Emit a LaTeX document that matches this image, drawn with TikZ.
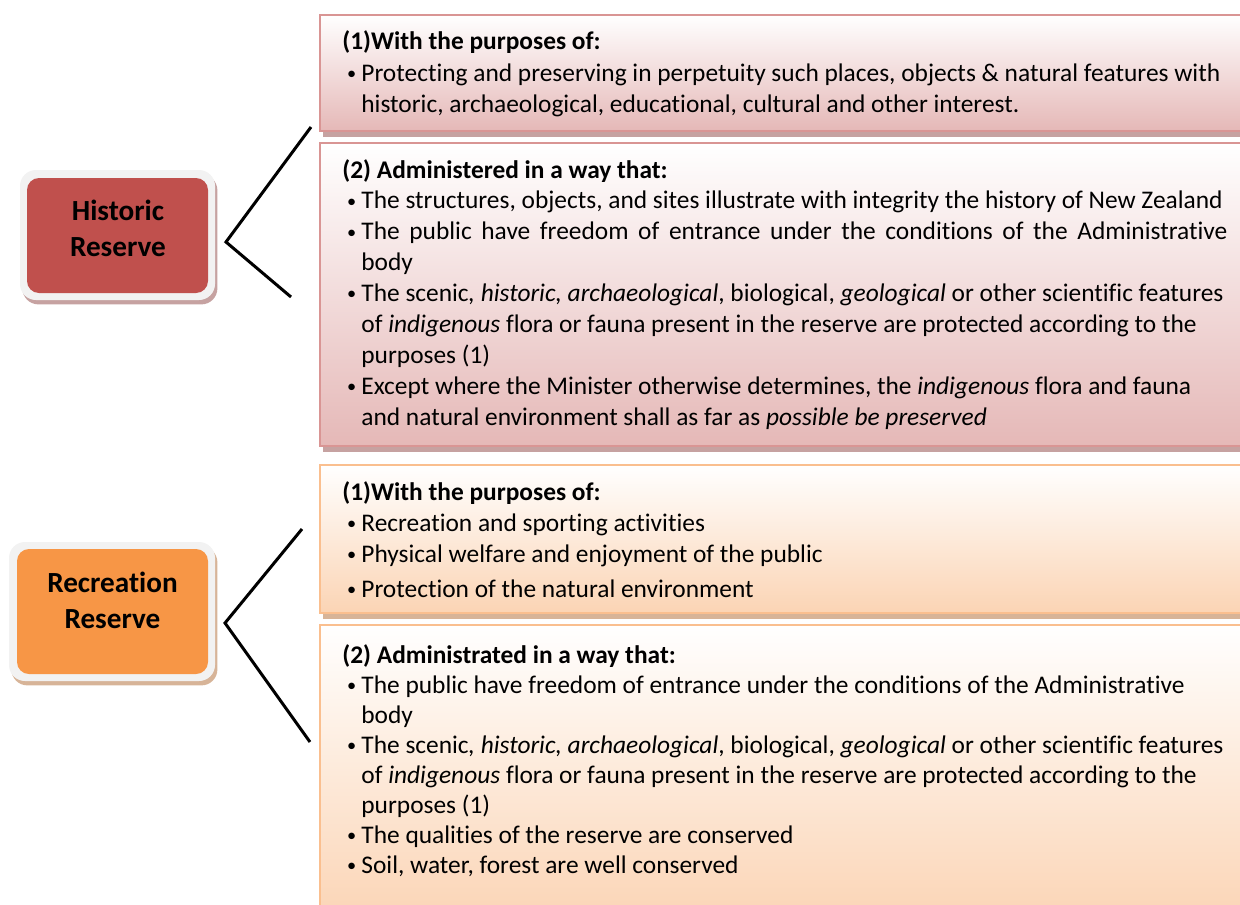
\documentclass[tikz,border=0pt]{standalone}
\usepackage{fontspec}
\setmainfont{Carlito}[Ligatures=NoCommon]
\usetikzlibrary{shadows}

\definecolor{hisred}{HTML}{C0504D}
\definecolor{hisline}{HTML}{D99594}
\definecolor{hisfill}{HTML}{E5B8B7}
\definecolor{hisshadow}{HTML}{C6A2A1}
\definecolor{recorange}{HTML}{F79646}
\definecolor{recline}{HTML}{FABF8F}
\definecolor{recfill}{HTML}{FBD4B4}
\definecolor{recshadow}{HTML}{D7B498}
\definecolor{framegray}{HTML}{F2F2F2}

% bullet item with a hanging indent
\newcommand\bulletmark{\makebox[9.5pt][l]{\hspace{2.4pt}\raisebox{0.9pt}{\scalebox{0.72}{\textbullet}}}}
\newcommand\entry[1]{\par\hangindent=9.5pt\hangafter=1\noindent\bulletmark#1}
\newcommand\heading[1]{\noindent\textbf{#1}}
% a block of lines whose baseline is that of its first line
\newcommand\textblock[2]{\vtop{\hsize=480pt\parindent=0pt\parskip=0pt
  \fontsize{12.7}{15.4}\selectfont\baselineskip=#1\lineskiplimit=-20pt
  \raggedright #2\par}}
\newcommand\spreadline[2]{\makebox[#1][s]{#2}}

\tikzset{
  panel/.style={draw, line width=1.25pt, anchor=north west, inner sep=0pt,
    outer sep=0pt, minimum width=470pt},
  pinkpanel/.style={panel, draw=hisline, top color=white, bottom color=hisfill,
    general shadow={fill=hisshadow, shadow xshift=1.5pt, shadow yshift=-3pt}},
  orangepanel/.style={panel, draw=recline, top color=white, bottom color=recfill,
    general shadow={fill=recshadow, shadow xshift=1.5pt, shadow yshift=-3pt}},
  frame/.style={anchor=north west, inner sep=0pt, outer sep=0pt,
    rounded corners=8pt, fill=framegray},
  core/.style={anchor=north west, inner sep=0pt, outer sep=0pt,
    rounded corners=6pt},
  reslabel/.style={anchor=base, inner sep=0pt,
    font=\fontsize{14.6}{18}\selectfont\bfseries},
  textpart/.style={anchor=base west, inner sep=0pt},
  bracket/.style={draw=black, line width=1.5pt}
}

\begin{document}
\begin{tikzpicture}[x=0.5pt, y=-0.5pt]
\useasboundingbox (0,0) rectangle (1240,904);
\clip (0,0) rectangle (1240,904);

% ---------- Historic Reserve ----------
\node[pinkpanel, minimum height=58pt] (hpurpose) at (320,15) {};
\node[pinkpanel, minimum height=151.5pt] (hadmin) at (320,143) {};

\node[frame, minimum width=97.5pt, minimum height=65pt,
  general shadow={fill=hisshadow, shadow xshift=1.2pt, shadow yshift=-2.2pt}]
  (histframe) at (20,170) {};
\node[core, fill=hisred, minimum width=90.5pt, minimum height=57.5pt]
  (hist) at (27,178) {};
\node[reslabel] (histlabel) at (118,220)
  {\begin{tabular}[t]{@{}c@{}}Historic\\Reserve\end{tabular}};

\coordinate (histapex) at (226,242);
\coordinate (histtop) at (311,127);
\coordinate (histbot) at (291,297);
\draw[bracket] (histtop) -- (histapex) -- (histbot);

\node[textpart] (hpurposetext) at (342,50) {\textblock{15.75pt}{%
  \heading{(1)With the purposes of:}
  \entry{Protecting and preserving in perpetuity such places, objects \& natural features with\newline
    historic, archaeological, educational, cultural and other interest.}}};

\node[textpart] (hadmintext) at (342,178) {\textblock{15.45pt}{%
  \heading{(2) Administered in a way that:}
  \entry{The structures, objects, and sites illustrate with integrity the history of New Zealand}
  \entry{\spreadline{433pt}{The public have freedom of entrance under the conditions of the Administrative}\newline
    body}
  \entry{The scenic\textit{, historic, archaeological}, biological, \textit{geological} or other scientific features\newline
    of \textit{indigenous} flora or fauna present in the reserve are protected according to the\newline
    purposes (1)}
  \entry{Except where the Minister otherwise determines, the \textit{indigenous} flora and fauna\newline
    and natural environment shall as far as \textit{possible be preserved}}}};

% ---------- Recreation Reserve ----------
\node[orangepanel, minimum height=74pt] (rpurpose) at (320,465) {};
\node[orangepanel, minimum height=150pt] (radmin) at (320,625) {};

\node[frame, minimum width=103pt, minimum height=69.5pt,
  general shadow={fill=recshadow, shadow xshift=1.2pt, shadow yshift=-2.2pt}]
  (recframe) at (9,542) {};
\node[core, fill=recorange, minimum width=95.5pt, minimum height=62.5pt]
  (rec) at (17,549) {};
\node[reslabel] (reclabel) at (112.5,592)
  {\begin{tabular}[t]{@{}c@{}}Recreation\\Reserve\end{tabular}};

\coordinate (recapex) at (225,623);
\coordinate (rectop) at (302,529);
\coordinate (recbot) at (310,742);
\draw[bracket] (rectop) -- (recapex) -- (recbot);

\node[textpart] (rpurposetext) at (342,500) {\textblock{15.5pt}{%
  \heading{(1)With the purposes of:}
  \entry{Recreation and sporting activities}
  \entry{Physical welfare and enjoyment of the public}
  \par\vspace{2.3pt}
  \entry{Protection of the natural environment}}};

\node[textpart] (radmintext) at (342,663) {\textblock{15pt}{%
  \heading{(2) Administrated in a way that:}
  \entry{The public have freedom of entrance under the conditions of the Administrative\newline
    body}
  \entry{The scenic\textit{, historic, archaeological}, biological, \textit{geological} or other scientific features\newline
    of \textit{indigenous} flora or fauna present in the reserve are protected according to the\newline
    purposes (1)}
  \entry{The qualities of the reserve are conserved}
  \entry{Soil, water, forest are well conserved}}};
\end{tikzpicture}
\end{document}
